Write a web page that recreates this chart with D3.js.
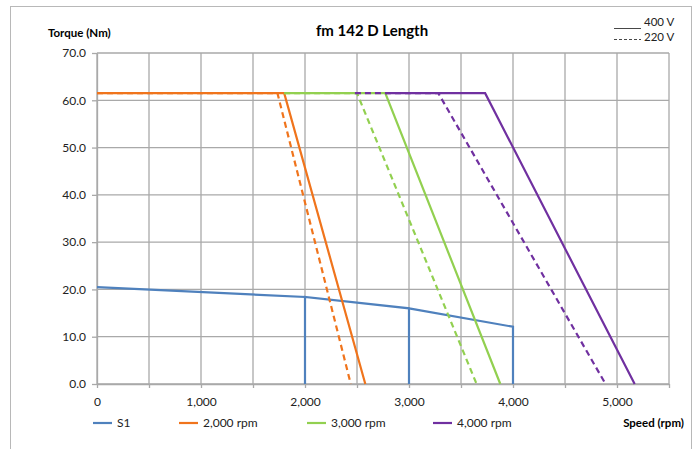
<!DOCTYPE html>
<html>
<head>
<meta charset="utf-8">
<script src="https://cdn.jsdelivr.net/npm/d3@7"></script>
<style>
body { margin: 0; background: #fff; }
svg { font-family: Lato, "Liberation Sans", sans-serif; }
</style>
</head>
<body>
<script>
// torque curves, speed in rpm, torque in Nm
var speedS1 = [0, 2000, 2000, 2000, 3000, 3000, 3000, 4000, 4000];
var torqueS1 = [20.5, 18.4, 0, 18.4, 16.0, 0, 16.0, 12.1, 0];

var speed2000_400 = [0, 1800, 2580];
var torque2000_400 = [61.5, 61.5, 0];
var speed2000_220 = [0, 1735, 2440];
var torque2000_220 = [61.5, 61.5, 0];

var speed3000_400 = [1800, 2772, 3878];
var torque3000_400 = [61.5, 61.5, 0];
var speed3000_220 = [1800, 2500, 3650];
var torque3000_220 = [61.5, 61.5, 0];

var speed4000_400 = [2772, 3732, 5170];
var torque4000_400 = [61.5, 61.5, 0];
var speed4000_220 = [2480, 3282, 4890];
var torque4000_220 = [61.5, 61.5, 0];

var legendNames = ["S1", "2,000 rpm", "3,000 rpm", "4,000 rpm"];
var colors = ["#4f81bd", "#f0741c", "#92d050", "#7030a0"];

var xTicks = d3.range(0, 5501, 500);
var yTicks = d3.range(0, 71, 10);

var svg = d3.select('body').append('svg')
    .attr('width', 700)
    .attr('height', 449);

// outer frame
svg.append('rect')
    .attr('x', 10.5).attr('y', 6.5)
    .attr('width', 681).attr('height', 460)
    .attr('fill', 'none')
    .attr('stroke', '#b8b8b8');

var x = d3.scaleLinear().domain([0, 5500]).range([97, 669]);
var y = d3.scaleLinear().domain([0, 70]).range([384, 53]);

// grid
svg.append('g').selectAll('line').data(xTicks).enter().append('line')
    .attr('x1', function(d){ return x(d); })
    .attr('x2', function(d){ return x(d); })
    .attr('y1', y(70)).attr('y2', y(0))
    .style('stroke', '#a9a9a9').style('stroke-width', 1.3);
svg.append('g').selectAll('line').data(yTicks).enter().append('line')
    .attr('x1', x(0)).attr('x2', x(5500))
    .attr('y1', function(d){ return y(d); })
    .attr('y2', function(d){ return y(d); })
    .style('stroke', '#a9a9a9').style('stroke-width', 1.3);

// axes
var yAxis = d3.axisLeft(y).tickValues(yTicks).tickFormat(d3.format('.1f'))
    .tickSize(5).tickSizeOuter(0).tickPadding(6);
var xAxis = d3.axisBottom(x).tickValues(xTicks)
    .tickFormat(function(d){ return d % 1000 === 0 ? d3.format(',')(d) : ''; })
    .tickSize(4).tickSizeOuter(0).tickPadding(9);

var gy = svg.append('g').attr('transform', 'translate(' + x(0) + ',0)').call(yAxis);
var gx = svg.append('g').attr('transform', 'translate(0,' + y(0) + ')').call(xAxis);
[gx, gy].forEach(function(g){
    g.select('.domain').style('stroke', '#a9a9a9').style('stroke-width', 1.3);
    g.selectAll('.tick line').style('stroke', '#a9a9a9').style('stroke-width', 1.3);
    g.selectAll('text').style('font-family', 'Lato, "Liberation Sans", sans-serif')
        .style('font-size', '12px').style('fill', '#222');
});

// series
var series = [
    {sx: speedS1, sy: torqueS1, c: colors[0], dash: null},
    {sx: speed2000_400, sy: torque2000_400, c: colors[1], dash: null},
    {sx: speed2000_220, sy: torque2000_220, c: colors[1], dash: '6,4'},
    {sx: speed3000_400, sy: torque3000_400, c: colors[2], dash: null},
    {sx: speed3000_220, sy: torque3000_220, c: colors[2], dash: '6,4'},
    {sx: speed4000_400, sy: torque4000_400, c: colors[3], dash: null},
    {sx: speed4000_220, sy: torque4000_220, c: colors[3], dash: '6,4'}
];

var line = d3.line()
    .x(function(d){ return x(d[0]); })
    .y(function(d){ return y(d[1]); });

series.forEach(function(s){
    var pts = s.sx.map(function(v, i){ return [v, s.sy[i]]; });
    svg.append('path')
        .attr('d', line(pts))
        .attr('fill', 'none')
        .style('stroke', s.c)
        .style('stroke-width', 2.2)
        .style('stroke-linejoin', 'miter')
        .style('stroke-dasharray', s.dash);
});

// titles
svg.append('text').attr('x', 372).attr('y', 36).attr('text-anchor', 'middle')
    .style('font-size', '15px').style('font-weight', 'bold').text('fm 142 D Length');
svg.append('text').attr('x', 48).attr('y', 37)
    .style('font-size', '11.5px').style('font-weight', 'bold').text('Torque (Nm)');
svg.append('text').attr('x', 684).attr('y', 427).attr('text-anchor', 'end')
    .style('font-size', '11.5px').style('font-weight', 'bold').text('Speed (rpm)');

// voltage key
svg.append('line').attr('x1', 614).attr('x2', 641).attr('y1', 28.5).attr('y2', 28.5)
    .style('stroke', '#333').style('stroke-width', 0.9);
svg.append('line').attr('x1', 614).attr('x2', 641).attr('y1', 39.5).attr('y2', 39.5)
    .style('stroke', '#333').style('stroke-width', 0.9).style('stroke-dasharray', '3,2');
svg.append('text').attr('x', 644).attr('y', 26).style('font-size', '11.5px').style('fill', '#222').text('400 V');
svg.append('text').attr('x', 644).attr('y', 40.5).style('font-size', '11.5px').style('fill', '#222').text('220 V');

// bottom legend
var legX = [93, 179, 307, 433];
var leg = svg.append('g').selectAll('g').data(legendNames).enter().append('g')
    .attr('transform', function(d, i){ return 'translate(' + legX[i] + ',423)'; });
leg.append('line').attr('x1', 0).attr('x2', 19).attr('y1', 0).attr('y2', 0)
    .style('stroke', function(d, i){ return colors[i]; }).style('stroke-width', 2.2);
leg.append('text').attr('x', 24).attr('y', 4).style('font-size', '12px').style('fill', '#222')
    .text(function(d){ return d; });
</script>
</body>
</html>
